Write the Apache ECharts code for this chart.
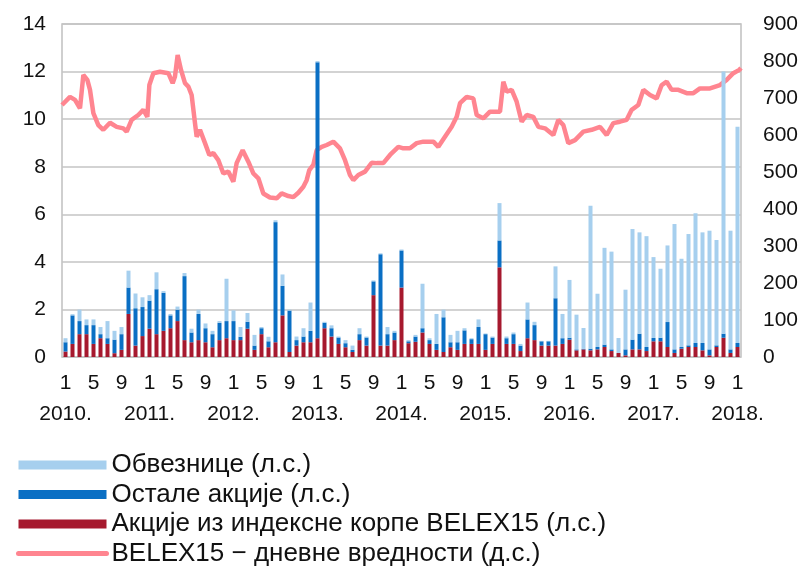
<!DOCTYPE html>
<html style="height: 100%">
<head>
<meta charset="utf-8">
<script src="https://cdn.jsdelivr.net/npm/echarts@6/dist/echarts.min.js"></script>
</head>
<body style="height: 100%; margin: 0; background: #fff">
<div id="container" style="width: 808px; height: 569px"></div>
<script type="text/javascript">
// monthly turnover, bn RSD (left axis), Jan 2010 .. Jan 2018
var indexShares = [
  0.23, 0.55, 0.96, 0.96, 0.55, 0.79, 0.55, 0.16, 0.30, 1.81, 0.48, 0.88,
  1.19, 0.96, 1.10, 1.21, 1.51, 0.71, 0.62, 0.71, 0.62, 0.41, 0.71, 0.79,
  0.71, 0.71, 1.19, 0.30, 0.96, 0.41, 0.62, 1.75, 0.21, 0.48, 0.62, 0.62,
  0.79, 1.21, 0.86, 0.55, 0.41, 0.21, 0.71, 0.48, 2.60, 0.48, 0.48, 0.71,
  2.92, 0.58, 0.64, 1.03, 0.55, 0.30, 0.21, 0.41, 0.30, 0.55, 0.55, 0.55,
  0.30, 0.55, 3.77, 0.55, 0.55, 0.25, 0.79, 0.71, 0.48, 0.48, 0.48, 0.55,
  0.73, 0.28, 0.32, 0.28, 0.32, 0.42, 0.25, 0.17, 0.07, 0.32, 0.32, 0.25,
  0.66, 0.66, 0.42, 0.17, 0.35, 0.42, 0.42, 0.28, 0.07, 0.42, 0.81, 0.17,
  0.42
];
var otherShares = [
  0.39, 1.20, 0.55, 0.38, 0.79, 0.17, 0.24, 0.57, 0.66, 1.11, 1.57, 1.22,
  1.18, 1.89, 1.60, 0.54, 0.48, 2.69, 0.41, 1.10, 0.59, 0.55, 0.73, 0.72,
  0.80, 0.14, 0.29, 0.18, 0.25, 0.25, 5.05, 1.24, 1.74, 0.23, 0.24, 0.48,
  11.60, 0.23, 0.35, 0.27, 0.17, 0.09, 0.25, 0.34, 0.58, 3.84, 0.48, 0.32,
  1.56, 0.08, 0.22, 0.18, 0.16, 0.25, 1.46, 0.21, 0.32, 0.57, 0.20, 0.71,
  0.66, 0.27, 1.13, 0.24, 0.41, 0.23, 0.79, 0.63, 0.18, 0.18, 1.99, 0.24,
  0.08, 0.04, 0.02, 0.07, 0.10, 0.10, 0.07, 0.00, 0.25, 0.41, 0.66, 0.17,
  0.14, 0.15, 1.05, 0.15, 0.07, 0.07, 0.17, 0.31, 0.25, 0.07, 0.17, 0.15,
  0.17
];
var bonds = [
  0.17, 0.05, 0.48, 0.24, 0.24, 0.30, 0.72, 0.37, 0.30, 0.71, 0.62, 0.41,
  0.23, 0.71, 0.07, 0.06, 0.13, 0.13, 0.16, 0.18, 0.20, 0.14, 0.07, 1.78,
  0.45, 0.41, 0.37, 0.45, 0.05, 0.19, 0.08, 0.48, 0.04, 0.15, 0.35, 1.19,
  0.05, 0.04, 0.12, 0.04, 0.13, 0.18, 0.25, 0.04, 0.04, 0.04, 0.30, 0.07,
  0.04, 0.05, 0.07, 1.87, 0.08, 1.26, 0.32, 0.31, 0.48, 0.09, 0.04, 0.32,
  0.03, 0.04, 1.57, 0.07, 0.07, 0.07, 0.71, 0.14, 0.02, 0.02, 1.34, 1.02,
  2.43, 1.46, 0.88, 6.01, 2.24, 4.07, 4.11, 0.63, 2.51, 4.65, 4.26, 4.66,
  3.40, 2.90, 3.22, 5.27, 3.71, 4.68, 5.45, 4.65, 4.99, 4.43, 11.02, 4.99,
  9.09
];

// BELEX15 daily values (right axis); t = months since Jan 2010
var belexT = [
  -0.5, 0.64, 1.36, 2.07, 2.55, 3.12, 3.5, 3.98, 4.69, 5.4, 6.36, 7.31, 8.26, 8.74,
  9.45, 10.4, 11.12, 11.69, 11.98, 12.55, 13.5, 14.69, 15.31, 15.64, 16.02, 16.5,
  17.07, 17.55, 18.02, 18.5, 18.74, 19.21, 19.93, 20.55, 21.12, 21.83, 22.55, 23.26,
  23.98, 24.45, 25.31, 26.12, 26.83, 27.55, 28.26, 29.21, 30.17, 30.88, 31.83, 32.55,
  33.26, 33.98, 34.45, 34.83, 35.4, 35.88, 36.6, 37.31, 38.26, 39.21, 39.93, 40.64,
  41.12, 41.83, 42.79, 43.74, 44.45, 45.4, 46.36, 47.55, 48.26, 49.21, 50.17, 51.12,
  52.07, 52.55, 53.26, 54.21, 55.17, 55.88, 56.36, 57.31, 58.26, 58.74, 59.69, 60.64,
  62.07, 62.55, 63.02, 63.74, 64.45, 65.17, 65.88, 66.83, 67.55, 68.5, 69.69, 70.4,
  71.12, 71.83, 72.79, 73.98, 75.17, 76.36, 77.31, 78.26, 79.21, 80.17, 80.88, 81.83,
  82.55, 83.5, 84.45, 85.17, 85.88, 86.6, 87.55, 88.74, 89.69, 90.64, 92.07, 93.5,
  94.45, 95.4, 96.26, 96.5
];
var belexV = [
  681, 703, 695, 672, 762, 749, 722, 659, 627, 614, 633, 622, 618, 609,
  641, 654, 668, 649, 735, 767, 771, 767, 740, 758, 816, 776,
  740, 731, 708, 632, 595, 614, 578, 546, 551, 532, 496, 501,
  474, 524, 559, 528, 496, 483, 442, 431, 429, 442, 435, 432,
  444, 460, 478, 505, 519, 559, 568, 573, 582, 564, 532, 492,
  478, 492, 501, 525, 524, 524, 546, 568, 564, 564, 578, 582,
  582, 582, 568, 595, 622, 649, 686, 703, 699, 654, 645, 663,
  663, 744, 717, 722, 690, 636, 654, 649, 622, 618, 600, 641,
  627, 578, 586, 609, 614, 622, 600, 632, 636, 641, 668, 681,
  722, 708, 699, 735, 744, 722, 722, 713, 713, 726, 726, 735,
  749, 767, 776, 781
];

var names = [
  'Обвезнице (л.с.)',
  'Остале акције (л.с.)',
  'Акције из индексне корпе BELEX15 (л.с.)',
  'BELEX15 − дневне вредности (д.с.)'
];
var colors = ['#a6cfee', '#0a6fc4', '#a6192e', '#ff8590'];

var months = [];
for (var y = 2010; y <= 2018; y++) {
  for (var m = 1; m <= 12; m++) {
    if (y === 2018 && m > 1) break;
    months.push(y + '-' + m);
  }
}

var belexData = belexT.map(function (t, i) { return [t, belexV[i]]; });

var font = 'Liberation Sans, Arial, sans-serif';
var dom = document.getElementById('container');
var myChart = echarts.init(dom, null, { renderer: 'canvas' });

var option = {
  animation: false,
  backgroundColor: '#fff',
  textStyle: { fontFamily: font, color: '#111' },
  grid: {
    left: 62, right: 67, top: 24, bottom: 212,
    show: true, borderColor: '#c0c0c0', borderWidth: 1.5
  },
  legend: {
    orient: 'vertical',
    left: 11, top: 447, height: 200,
    itemWidth: 88, itemHeight: 9, itemGap: 3.5,
    textStyle: { fontFamily: font, fontSize: 26, lineHeight: 26, color: '#111' },
    data: [
      { name: names[0], icon: 'rect' },
      { name: names[1], icon: 'rect' },
      { name: names[2], icon: 'rect' },
      {
        name: names[3],
        itemStyle: { color: 'rgba(0,0,0,0)', borderColor: 'rgba(0,0,0,0)', borderWidth: 0 },
        lineStyle: { width: 5, cap: 'round' }
      }
    ]
  },
  xAxis: [{
    // month numbers
    type: 'category',
    data: months,
    position: 'bottom',
    axisLine: { show: false },
    axisTick: { show: false },
    axisLabel: {
      interval: 3,
      showMinLabel: true,
      showMaxLabel: true,
      margin: 16,
      fontSize: 21,
      color: '#111',
      formatter: function (v) { return v.split('-')[1]; }
    }
  }, {
    type: 'value',
    min: -0.5, max: 96.5,
    show: false
  }, {
    // years under each January
    type: 'category',
    data: months,
    position: 'bottom',
    axisLine: { show: false },
    axisTick: { show: false },
    axisLabel: {
      interval: 11,
      showMinLabel: true,
      showMaxLabel: true,
      margin: 47,
      fontSize: 21,
      color: '#111',
      formatter: function (v) { return v.split('-')[0] + '.'; }
    }
  }],
  yAxis: [{
    type: 'value',
    min: 0, max: 14, interval: 2,
    axisLine: { show: false },
    axisTick: { show: false },
    axisLabel: { fontSize: 21, margin: 16, color: '#111' },
    splitLine: { lineStyle: { color: '#c4c4c4', width: 1.5 } }
  }, {
    type: 'value',
    min: 0, max: 900, interval: 100,
    axisLine: { show: false },
    axisTick: { show: false },
    axisLabel: { fontSize: 21, margin: 22, color: '#111' },
    splitLine: { show: false }
  }],
  series: [{
    name: names[2], type: 'bar', stack: 'turnover', barWidth: 4,
    itemStyle: { color: colors[2] }, data: indexShares
  }, {
    name: names[1], type: 'bar', stack: 'turnover', barWidth: 4,
    itemStyle: { color: colors[1] }, data: otherShares
  }, {
    name: names[0], type: 'bar', stack: 'turnover', barWidth: 4,
    itemStyle: { color: colors[0] }, data: bonds
  }, {
    name: names[3], type: 'line', xAxisIndex: 1, yAxisIndex: 1,
    symbol: 'none', z: 1,
    lineStyle: { color: colors[3], width: 4.5 },
    itemStyle: { color: colors[3] },
    data: belexData
  }]
};

myChart.setOption(option);
</script>
</body>
</html>
